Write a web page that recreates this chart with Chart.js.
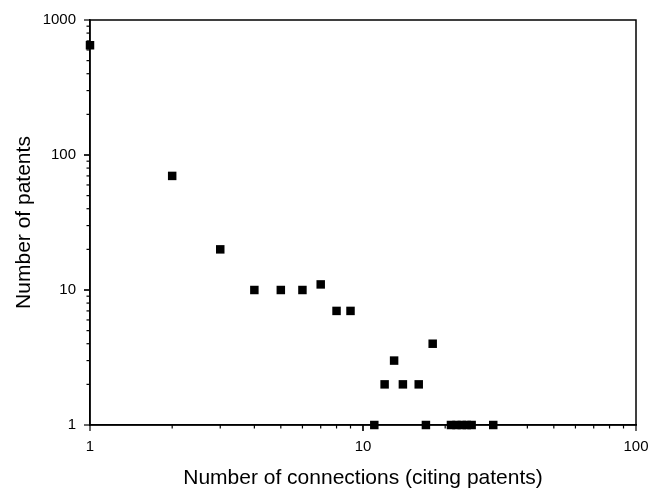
<!DOCTYPE html>
<html>
<head>
<meta charset="utf-8">
<script src="https://cdn.jsdelivr.net/npm/chart.js@4"></script>
<style>
  html, body { margin: 0; padding: 0; background: #fff; }
  #wrap { width: 651px; height: 493px; }
</style>
</head>
<body>
<div id="wrap"><canvas id="chart" width="651" height="493"></canvas></div>
<script>
// connections (citing patents) vs number of patents
const connections = [1, 2, 3, 4, 5, 6, 7, 8, 9, 11, 12, 13, 14, 16, 17, 18, 21, 22, 23, 24, 25, 30];
const patents     = [650, 70, 20, 10, 10, 10, 11, 7, 7, 1, 2, 3, 2, 2, 1, 4, 1, 1, 1, 1, 1, 1];
const xTickLabels = [1, 10, 100];
const yTickLabels = [1, 10, 100, 1000];

const FONT = 'Liberation Sans, Arial, sans-serif';

// minor/major tick marks outside the frame, plus the top/right border
const frameTicks = {
    id: 'frameTicks',
    afterDraw(chart) {
        const { ctx, chartArea: a, scales } = chart;
        ctx.save();
        ctx.strokeStyle = '#000';
        ctx.lineWidth = 1.5;
        ctx.strokeRect(a.left, a.top, a.right - a.left, a.bottom - a.top);
        ctx.lineWidth = 1.2;
        const drawTicks = (scale, min, max, isX) => {
            for (let dec = min; dec < max; dec *= 10) {
                for (let m = 1; m <= 10; m++) {
                    const v = dec * m;
                    if (v > max) break;
                    const major = (m === 1 || m === 10);
                    const len = major ? 6 : 3.5;
                    const p = scale.getPixelForValue(v);
                    ctx.beginPath();
                    if (isX) { ctx.moveTo(p, a.bottom); ctx.lineTo(p, a.bottom + len); }
                    else { ctx.moveTo(a.left, p); ctx.lineTo(a.left - len, p); }
                    ctx.stroke();
                }
            }
        };
        drawTicks(scales.x, 1, 100, true);
        drawTicks(scales.y, 1, 1000, false);
        ctx.restore();
    }
};

new Chart(document.getElementById('chart'), {
    type: 'scatter',
    data: {
        datasets: [{
            data: connections.map((c, i) => ({ x: c, y: patents[i] })),
            pointStyle: 'rect',
            pointRadius: 6,
            pointHoverRadius: 6,
            backgroundColor: '#000',
            borderColor: '#000',
            borderWidth: 0
        }]
    },
    options: {
        responsive: false,
        animation: false,
        layout: { padding: { top: 20, right: 15, left: 0, bottom: 0 } },
        plugins: { legend: { display: false }, tooltip: { enabled: false } },
        clip: false,
        scales: {
            x: {
                type: 'logarithmic',
                min: 1,
                max: 100,
                afterFit: s => { s.height = 68; s.paddingLeft = 0; s.paddingRight = 0; },
                afterBuildTicks: s => { s.ticks = xTickLabels.map(v => ({ value: v })); },
                grid: { display: false, drawTicks: false },
                border: { display: true, color: '#000', width: 1.5 },
                ticks: {
                    color: '#000',
                    padding: 13,
                    maxRotation: 0,
                    font: { family: FONT, size: 15 },
                    callback: v => String(v)
                },
                title: {
                    display: true,
                    text: 'Number of connections (citing patents)',
                    color: '#000',
                    font: { family: FONT, size: 21 },
                    padding: { top: 0, bottom: 2 }
                }
            },
            y: {
                type: 'logarithmic',
                min: 1,
                max: 1000,
                afterFit: s => { s.width = 90; s.paddingTop = 0; s.paddingBottom = 0; },
                afterBuildTicks: s => { s.ticks = yTickLabels.map(v => ({ value: v })); },
                grid: { display: false, drawTicks: false },
                border: { display: true, color: '#000', width: 1.5 },
                ticks: {
                    color: '#000',
                    padding: 14,
                    font: { family: FONT, size: 15 },
                    callback: v => String(v)
                },
                title: {
                    display: true,
                    text: 'Number of patents',
                    color: '#000',
                    font: { family: FONT, size: 21 },
                    padding: { top: 12, bottom: 0 }
                }
            }
        }
    },
    plugins: [frameTicks]
});
</script>
</body>
</html>
